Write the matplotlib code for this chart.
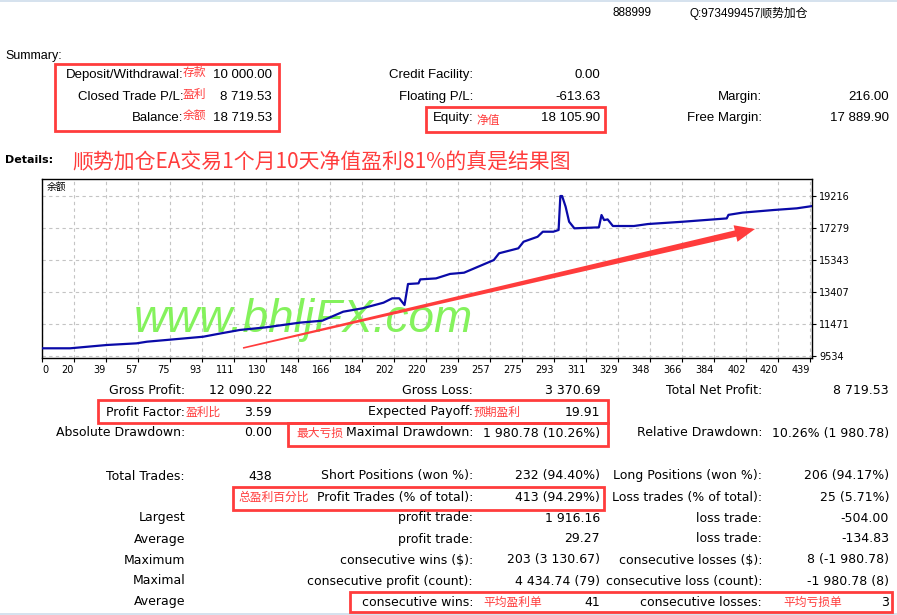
import numpy as np
import matplotlib.pyplot as plt
from matplotlib.patches import Rectangle, Polygon

W, H = 897, 615
RED = '#ff3c3c'
BLUE = '#0a0aa8'
GREEN = '#84f25c'

NARROW = 'Liberation Sans'
CJK = 'Noto Sans CJK SC'
TAB = 'DejaVu Sans'

# balance curve: trade number -> balance
trade_no = [0, 16, 37, 54, 60, 75, 92, 102, 113, 128, 147, 160, 172, 183, 195,
            200, 204, 207, 209, 215, 216, 225, 233, 241, 250, 258, 261, 272,
            275, 283, 286, 292, 295, 296, 297, 299, 301, 304, 318, 319.5, 321,
            323, 326, 338, 346, 366, 391, 392, 400, 418, 431, 440]
balance = [10000, 10000, 10200, 10300, 10400, 10540, 10700, 10900, 11110,
           11270, 11550, 11670, 12215, 12420, 12760, 13025, 13025, 12620,
           13890, 13930, 14170, 14230, 14500, 14575, 14980, 15340, 15750,
           16050, 16450, 16750, 17055, 17055, 17160, 19215, 19215, 18570,
           17660, 17260, 17320, 18065, 17760, 17800, 17400, 17400, 17520,
           17660, 17860, 18075, 18210, 18370, 18470, 18610]

xtick_labels = ["0", "20", "39", "57", "75", "93", "111", "130", "148", "166",
                "184", "202", "220", "239", "257", "275", "293", "311", "329",
                "348", "366", "384", "402", "420", "439"]
ytick_vals = [9534, 11471, 13407, 15343, 17279, 19216]

# summary block: (label, value) for three columns, per row
summary_rows = [
    [("Deposit/Withdrawal:", "10 000.00"), ("Credit Facility:", "0.00"), ("", "")],
    [("Closed Trade P/L:", "8 719.53"), ("Floating P/L:", "-613.63"), ("Margin:", "216.00")],
    [("Balance:", "18 719.53"), ("Equity:", "18 105.90"), ("Free Margin:", "17 889.90")],
]
summary_y = [75, 97, 118]

details_rows = [
    [("Gross Profit:", "12 090.22"), ("Gross Loss:", "3 370.69"), ("Total Net Profit:", "8 719.53")],
    [("Profit Factor:", "3.59"), ("Expected Payoff:", "19.91"), ("", "")],
    [("Absolute Drawdown:", "0.00"), ("Maximal Drawdown:", "1 980.78 (10.26%)"),
     ("Relative Drawdown:", "10.26% (1 980.78)")],
    [("Total Trades:", "438"), ("Short Positions (won %):", "232 (94.40%)"),
     ("Long Positions (won %):", "206 (94.17%)")],
    [("", ""), ("Profit Trades (% of total):", "413 (94.29%)"),
     ("Loss trades (% of total):", "25 (5.71%)")],
    [("Largest", ""), ("profit trade:", "1 916.16"), ("loss trade:", "-504.00")],
    [("Average", ""), ("profit trade:", "29.27"), ("loss trade:", "-134.83")],
    [("Maximum", ""), ("consecutive wins ($):", "203 (3 130.67)"),
     ("consecutive losses ($):", "8 (-1 980.78)")],
    [("Maximal", ""), ("consecutive profit (count):", "4 434.74 (79)"),
     ("consecutive loss (count):", "-1 980.78 (8)")],
    [("Average", ""), ("consecutive wins:", "41"), ("consecutive losses:", "3")],
]
details_y = [391, 412, 433, 476, 497, 518, 539, 560, 581, 602]

label_x = [185, 473, 762]
value_x = [272, 600, 889]

# red notes (text, left x, y)
notes = [("存款", 183, 72), ("盈利", 183, 94), ("余额", 183, 115), ("净值", 476, 120),
         ("盈利比", 186, 412), ("预期盈利", 474, 412), ("最大亏损", 296, 433),
         ("总盈利百分比", 238, 497), ("平均盈利单", 483, 602), ("平均亏损单", 783, 602)]
boxes = [(55, 64, 279, 131), (426, 107, 605, 132), (98, 400, 608, 423),
         (288, 423, 608, 446), (233, 487, 604, 510), (350, 592, 892, 612)]

title = "顺势加仓EA交易1个月10天净值盈利81%的真是结果图"

fig = plt.figure(figsize=(W / 100, H / 100), dpi=100)
fig.patch.set_facecolor('white')


def fx(x):
    return x / W


def fy(y):
    return 1 - y / H


def put(x, y, s, ha='right', va='center', **kw):
    fig.text(fx(x), fy(y), s, ha=ha, va=va, **kw)


# chart
ax = fig.add_axes([fx(42), fy(358), (812 - 42) / W, (358 - 179) / H])
ax.plot(trade_no, balance, color=BLUE, lw=1.6, zorder=3)
ax.set_xlim(0, 439.7)
ax.set_ylim(9413, 20245)
ax.set_xticks(np.linspace(0, 438.5, len(xtick_labels)))
ax.set_xticklabels(xtick_labels, fontsize=7, family=TAB)
for i, t in enumerate(ax.get_xticklabels()):
    t.set_ha('left' if i == 0 else 'right')
ax.set_yticks(ytick_vals)
ax.set_yticklabels([str(v) for v in ytick_vals], fontsize=7, family=TAB)
ax.yaxis.tick_right()
ax.tick_params(axis='both', length=3, width=0.8, pad=2, color='black')
ax.grid(True, color='#c4c4c4', ls=(0, (3, 3)), lw=0.8)
ax.set_axisbelow(True)
for sp in ax.spines.values():
    sp.set_linewidth(1)
ax.text(0.006, 0.955, "余额", transform=ax.transAxes, fontsize=7, family=CJK,
        va='center', ha='left')
ax.text(fx(303), fy(332), "www.bhljFX.com", transform=fig.transFigure,
        fontsize=33, style='italic', color=GREEN, family='Liberation Sans',
        ha='center', va='baseline', zorder=2.5, clip_on=False)

# red arrow
p0 = np.array([243.0, 348.0])
p1 = np.array([755.0, 229.0])
d = p1 - p0
u = d / np.hypot(*d)
n = np.array([-u[1], u[0]])
base = p1 - u * 20
pts = [p0 + n * 0.8, base + n * 3.2, base + n * 8.5, p1,
       base - n * 8.5, base - n * 3.2, p0 - n * 0.8]
fig.patches.append(Polygon([(fx(px), fy(py)) for px, py in pts], closed=True,
                           transform=fig.transFigure, fc=RED, ec='none', zorder=5))

# header strips
fig.patches.append(Rectangle((0, fy(2)), 1, 2 / H, transform=fig.transFigure,
                             fc='#d6e2ee', ec='none'))
fig.patches.append(Rectangle((0, 0), 1, 2 / H, transform=fig.transFigure,
                             fc='#d6e2ee', ec='none'))
put(612, 13, "888999", ha='left', fontsize=8.5, family=NARROW)
put(689, 13, "Q:973499457顺势加仓", ha='left', fontsize=8.5, family=[NARROW, CJK])
put(5, 56, "Summary:", ha='left', fontsize=9, family=NARROW)
put(5, 160, "Details:", ha='left', fontsize=8, family=TAB, weight='bold')
put(72, 162, title, ha='left', fontsize=15, color=RED, family=[CJK, 'DejaVu Sans'])

for y, row in zip(summary_y, summary_rows):
    for c, (lab, val) in enumerate(row):
        if lab:
            put(label_x[c] - 2 if c == 0 else label_x[c], y, lab, fontsize=9.5, family=NARROW)
            put(value_x[c], y, val, fontsize=9.5, family=NARROW)

for y, row in zip(details_y, details_rows):
    for c, (lab, val) in enumerate(row):
        if lab:
            put(label_x[c], y, lab, fontsize=9, family=TAB)
        if val:
            put(value_x[c], y, val, fontsize=9, family=TAB)

for s, x, y in notes:
    put(x, y, s, ha='left', fontsize=8.5, color=RED, family=CJK)

for x0, y0, x1, y1 in boxes:
    fig.patches.append(Rectangle((fx(x0), fy(y1)), (x1 - x0) / W, (y1 - y0) / H,
                                 transform=fig.transFigure, fill=False, ec=RED, lw=2))

fig.savefig("out.png", dpi=100)
